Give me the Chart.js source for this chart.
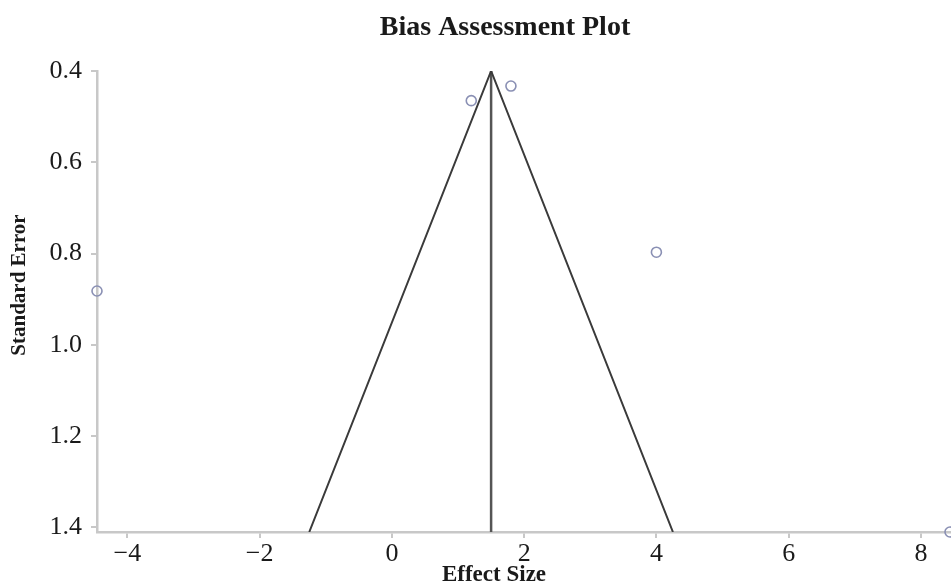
<!DOCTYPE html>
<html>
<head>
<meta charset="utf-8">
<script src="https://cdn.jsdelivr.net/npm/chart.js@4.4.0/dist/chart.umd.min.js"></script>
<style>
  html, body { margin: 0; padding: 0; background: #fff; }
  #wrap { width: 951px; height: 585px; }
</style>
</head>
<body>
<div id="wrap"><canvas id="funnelChart"></canvas></div>
<script>
// Datos
const studyEffect = [1.2, 1.8, 4.0, -4.46, 8.44];
const studySE = [0.465, 0.433, 0.797, 0.882, 1.41];

const pooledEffect = 1.5;
const funnelEffect = [-1.25, 1.5, 4.25];
const funnelSE = [1.41, 0.4, 1.41];
const centerSE = [0.4, 1.41];

const xTicks = [-4, -2, 0, 2, 4, 6, 8];
const yTicks = [0.4, 0.6, 0.8, 1.0, 1.2, 1.4];

const serif = "'Liberation Serif', 'Times New Roman', serif";
const axisGrey = '#c8c8c8';

// Títulos dibujados como texto sobre el canvas
const labelsPlugin = {
    id: 'etiquetas',
    afterDraw(chart) {
        const c = chart.ctx;
        c.save();
        c.fillStyle = '#1a1a1a';
        c.textAlign = 'center';
        c.textBaseline = 'middle';
        c.font = 'bold 28px ' + serif;
        c.fillText('Bias Assessment Plot', 505, 28);
        c.font = 'bold 23px ' + serif;
        c.fillText('Effect Size', 494, 575);
        c.translate(20, 285);
        c.rotate(-Math.PI / 2);
        c.font = 'bold 21px ' + serif;
        c.fillText('Standard Error', 0, 0);
        c.restore();
    }
};

const ctx = document.getElementById('funnelChart').getContext('2d');
const funnelChart = new Chart(ctx, {
    type: 'scatter',
    data: {
        datasets: [{
            label: 'Funnel',
            data: funnelEffect.map((x, i) => ({ x: x, y: funnelSE[i] })),
            showLine: true,
            borderColor: '#3a3a3a',
            borderWidth: 2,
            pointRadius: 0,
            tension: 0
        }, {
            label: 'Pooled',
            data: centerSE.map(y => ({ x: pooledEffect, y: y })),
            showLine: true,
            borderColor: '#555555',
            borderWidth: 2.5,
            pointRadius: 0
        }, {
            label: 'Studies',
            data: studyEffect.map((x, i) => ({ x: x, y: studySE[i] })),
            pointStyle: 'circle',
            pointRadius: 5,
            pointBorderWidth: 1.6,
            pointBorderColor: '#8a90b4',
            pointBackgroundColor: 'rgba(255,255,255,0)',
            clip: false
        }]
    },
    options: {
        responsive: true,
        maintainAspectRatio: false,
        animation: false,
        layout: { autoPadding: false, padding: { top: 71, right: 1, left: 0, bottom: 0 } },
        plugins: {
            legend: { display: false },
            tooltip: { enabled: false }
        },
        scales: {
            x: {
                type: 'linear',
                min: -4.46,
                max: 8.44,
                afterFit: function (scale) {
                    scale.height = 53;
                    scale.paddingRight = 0;
                },
                afterBuildTicks: function (scale) {
                    scale.ticks = xTicks.map(v => ({ value: v }));
                },
                border: { color: axisGrey, width: 2.5 },
                grid: { drawOnChartArea: false, color: axisGrey, lineWidth: 2, tickLength: 6 },
                ticks: {
                    padding: 1,
                    color: '#1a1a1a',
                    font: { family: serif, size: 26 },
                    callback: function (value) {
                        return String(value).replace('-', '\u2212');
                    }
                }
            },
            y: {
                type: 'linear',
                reverse: true,
                min: 0.4,
                max: 1.41,
                afterFit: function (scale) { scale.width = 97; },
                afterBuildTicks: function (scale) {
                    scale.ticks = yTicks.map(v => ({ value: v }));
                },
                border: { color: axisGrey, width: 2.5 },
                grid: { drawOnChartArea: false, color: axisGrey, lineWidth: 2, tickLength: 6 },
                ticks: {
                    padding: 9,
                    color: '#1a1a1a',
                    font: { family: serif, size: 26 },
                    callback: function (value) {
                        return value.toFixed(1);
                    }
                }
            }
        }
    },
    plugins: [labelsPlugin]
});
</script>
</body>
</html>
